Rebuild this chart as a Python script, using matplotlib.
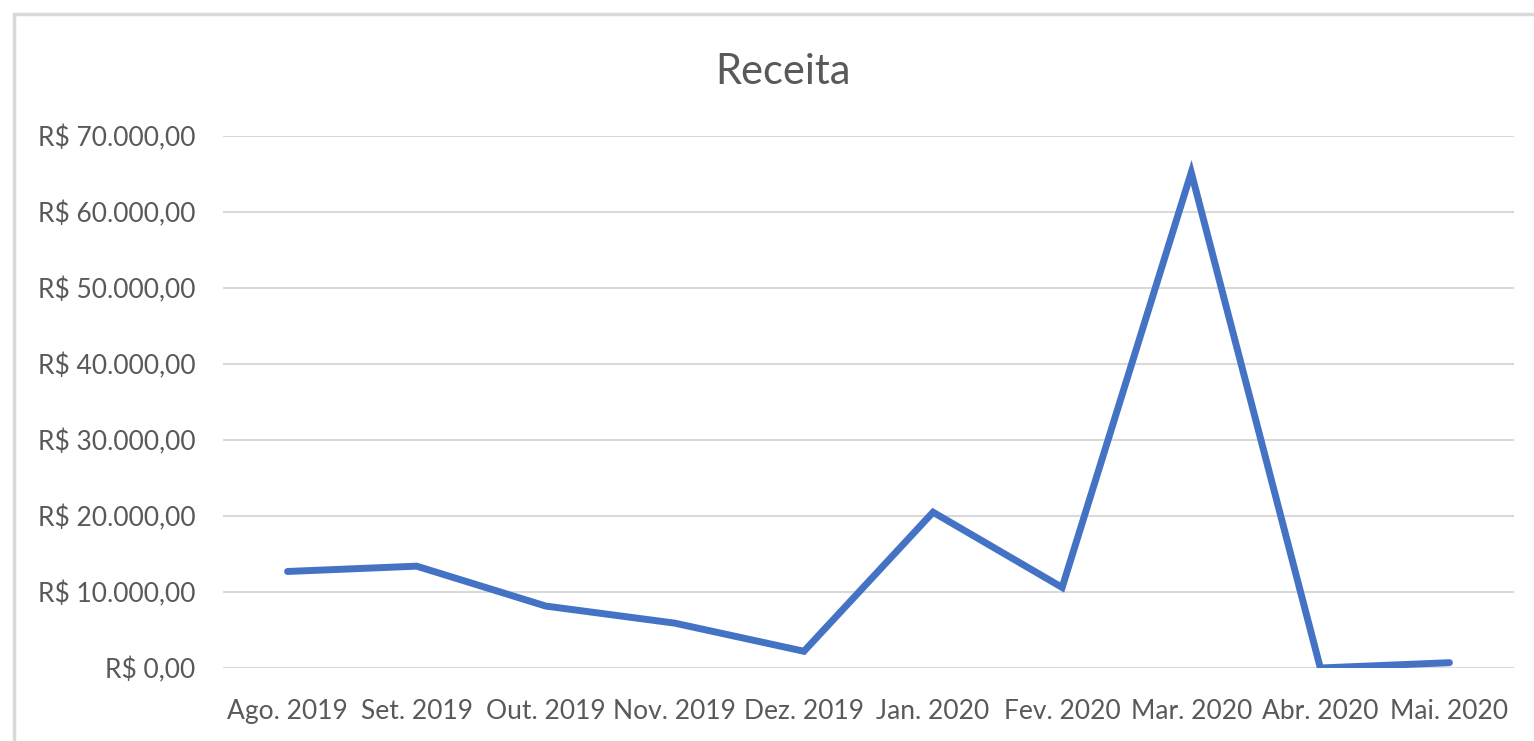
import matplotlib.pyplot as plt
from matplotlib.patches import Rectangle

months = ['Ago. 2019', 'Set. 2019', 'Out. 2019', 'Nov. 2019', 'Dez. 2019',
          'Jan. 2020', 'Fev. 2020', 'Mar. 2020', 'Abr. 2020', 'Mai. 2020']
receita = [12700, 13400, 8150, 5900, 2200, 20500, 10600, 65200, 0, 700]
yticks = [0, 10000, 20000, 30000, 40000, 50000, 60000, 70000]


def brl(v):
    s = f"{v:,.2f}".replace(',', 'X').replace('.', ',').replace('X', '.')
    return 'R$ ' + s


plt.rcParams['font.family'] = ['Lato', 'DejaVu Sans']

fig = plt.figure(figsize=(15.34, 7.41), dpi=100)
ax = fig.add_axes([223 / 1534, 1 - 668 / 741, (1514 - 223) / 1534, (668 - 136) / 741])

x = list(range(len(months)))
ax.plot(x, receita, color='#4472C4', linewidth=5, solid_capstyle='round',
        solid_joinstyle='miter', zorder=3)

ax.set_xlim(-0.5, len(months) - 0.5)
ax.set_ylim(0, 70000)
ax.set_yticks(yticks)
ax.set_yticklabels([brl(v) for v in yticks])
ax.set_xticks(x)
ax.set_xticklabels(months)
ax.tick_params(axis='both', length=0, labelsize=19, colors='#595959')
ax.tick_params(axis='y', pad=20)
ax.tick_params(axis='x', pad=22)
ax.grid(axis='y', color='#D9D9D9', linewidth=1.5)
ax.set_axisbelow(True)
for sp in ax.spines.values():
    sp.set_visible(False)

fig.text(783 / 1534, 1 - 72 / 741, 'Receita', ha='center', va='center',
         fontsize=30, color='#595959')

# outer chart frame (left and top edges visible)
fig.patches.append(Rectangle((14 / 1534, -0.05), 1.1, 1 - 14 / 741 + 0.05,
                             transform=fig.transFigure, fill=False,
                             edgecolor='#D9D9D9', linewidth=2.5))

fig.savefig('out.png', dpi=100)
